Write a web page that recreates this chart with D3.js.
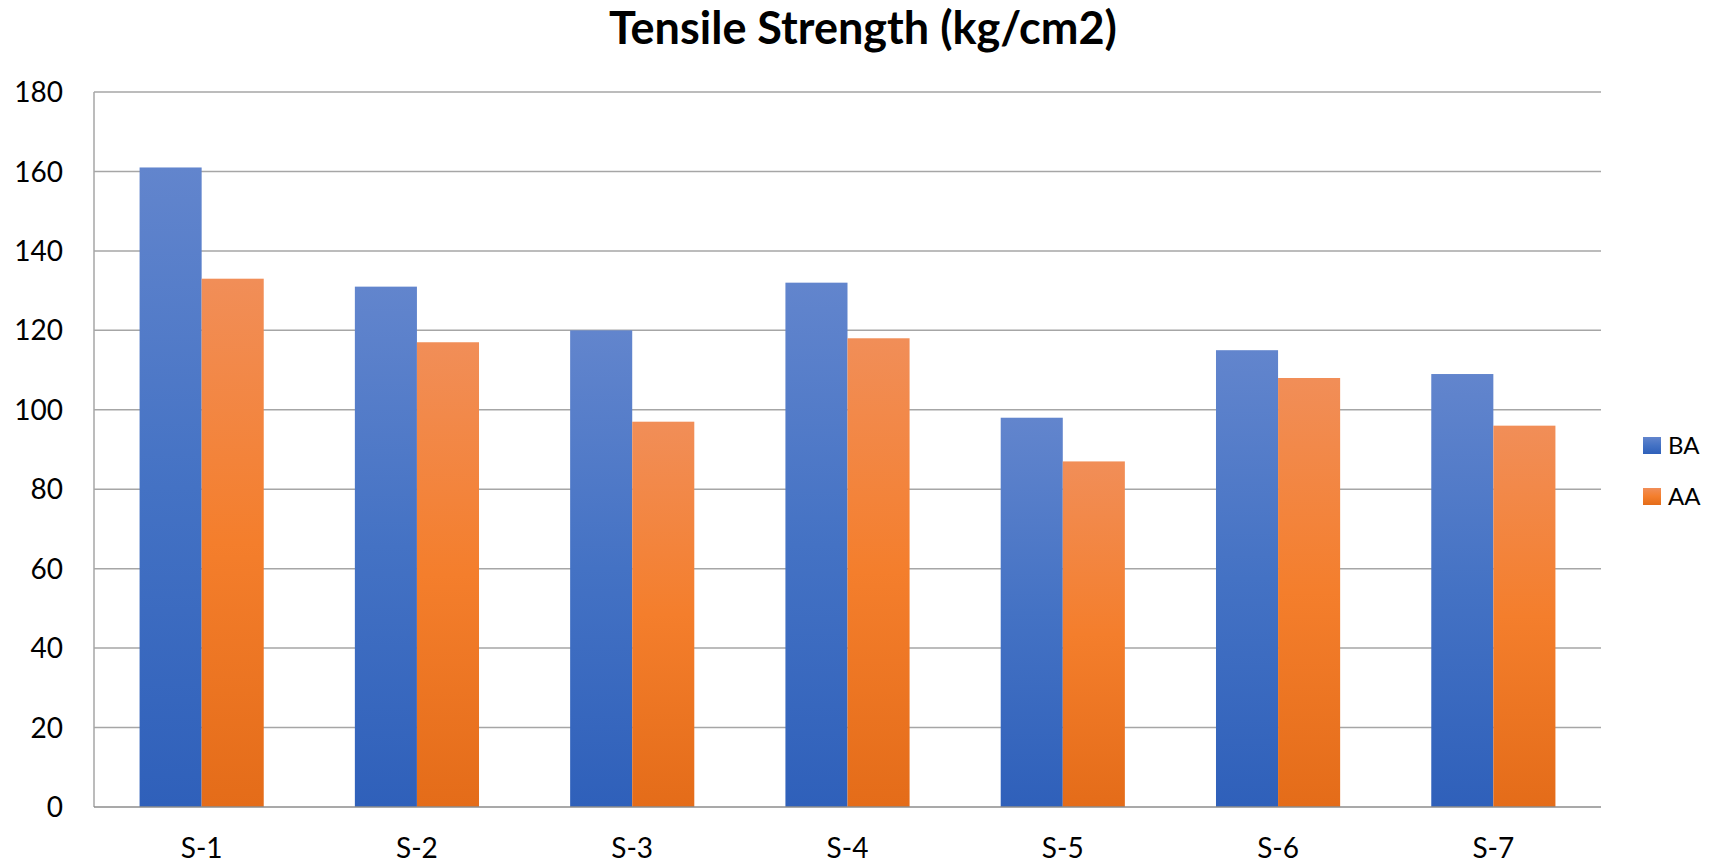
<!DOCTYPE html>
<html>
<head>
<meta charset="utf-8">
<script src="https://cdn.jsdelivr.net/npm/d3@7"></script>
<style>
  body { margin: 0; background: #fff; }
  text { font-family: Lato, "Open Sans", sans-serif; fill: #000; }
</style>
</head>
<body>
<div id="chart"></div>
<script>
// --- Data ---
const categories = ["S-1", "S-2", "S-3", "S-4", "S-5", "S-6", "S-7"];
const seriesNames = ["BA", "AA"];
const baValues = [161, 131, 120, 132, 98, 115, 109];
const aaValues = [133, 117, 97, 118, 87, 108, 96];
const yTicks = [0, 20, 40, 60, 80, 100, 120, 140, 160, 180];

// --- Layout ---
const w = 1714;
const h = 865;
const plot = { left: 94, right: 1601, top: 92, bottom: 807 };

const svg = d3.select("#chart")
    .append("svg")
    .attr("width", w)
    .attr("height", h);

// gradients for the bars (light top, dark bottom)
const defs = svg.append("defs");
const gradStops = {
    BA: ["#6285cd", "#4472c4", "#2f60ba"],
    AA: ["#f18e58", "#f47e2c", "#e46c19"]
};
seriesNames.forEach(function (name) {
    const g = defs.append("linearGradient")
        .attr("id", "grad-" + name)
        .attr("x1", 0).attr("y1", 0)
        .attr("x2", 0).attr("y2", 1);
    g.append("stop").attr("offset", "0%").attr("stop-color", gradStops[name][0]);
    g.append("stop").attr("offset", "50%").attr("stop-color", gradStops[name][1]);
    g.append("stop").attr("offset", "100%").attr("stop-color", gradStops[name][2]);
});

// scales
const x0 = d3.scaleBand()
    .domain(categories)
    .range([plot.left, plot.right])
    .paddingInner(0.4233)
    .paddingOuter(0.2117);

const x1 = d3.scaleBand()
    .domain(seriesNames)
    .range([0, x0.bandwidth()]);

const y = d3.scaleLinear()
    .domain([0, 180])
    .range([plot.bottom, plot.top]);

// gridlines
svg.append("g")
    .selectAll("line")
    .data(yTicks.filter(function (d) { return d > 0; }))
    .enter()
    .append("line")
    .attr("x1", plot.left)
    .attr("x2", plot.right)
    .attr("y1", function (d) { return y(d); })
    .attr("y2", function (d) { return y(d); })
    .attr("stroke", "#a6a6a6")
    .attr("stroke-width", 1.5);

// left axis line
svg.append("line")
    .attr("x1", plot.left).attr("x2", plot.left)
    .attr("y1", plot.top).attr("y2", plot.bottom)
    .attr("stroke", "#a6a6a6")
    .attr("stroke-width", 1.5);

// bars
const rows = categories.map(function (c, i) {
    return { cat: c, values: [
        { name: "BA", value: baValues[i] },
        { name: "AA", value: aaValues[i] }
    ] };
});

svg.append("g")
    .selectAll("g")
    .data(rows)
    .enter()
    .append("g")
    .attr("transform", function (d) { return "translate(" + x0(d.cat) + ",0)"; })
    .selectAll("rect")
    .data(function (d) { return d.values; })
    .enter()
    .append("rect")
    .attr("x", function (d) { return x1(d.name); })
    .attr("y", function (d) { return y(d.value); })
    .attr("width", x1.bandwidth())
    .attr("height", function (d) { return y(0) - y(d.value); })
    .attr("fill", function (d) { return "url(#grad-" + d.name + ")"; });

// x axis line
svg.append("line")
    .attr("x1", plot.left).attr("x2", plot.right)
    .attr("y1", plot.bottom).attr("y2", plot.bottom)
    .attr("stroke", "#8c8c8c")
    .attr("stroke-width", 1.5);

// y tick labels
svg.append("g")
    .selectAll("text")
    .data(yTicks)
    .enter()
    .append("text")
    .attr("x", 63)
    .attr("y", function (d) { return y(d); })
    .attr("dy", "0.36em")
    .attr("text-anchor", "end")
    .attr("font-size", "28px")
    .text(function (d) { return d; });

// x tick labels
svg.append("g")
    .selectAll("text")
    .data(categories)
    .enter()
    .append("text")
    .attr("x", function (d) { return x0(d) + x0.bandwidth() / 2; })
    .attr("y", 858)
    .attr("text-anchor", "middle")
    .attr("font-size", "28px")
    .text(function (d) { return d; });

// title
svg.append("text")
    .attr("x", 863)
    .attr("y", 44)
    .attr("text-anchor", "middle")
    .attr("font-size", "45px")
    .attr("font-weight", "bold")
    .text("Tensile Strength (kg/cm2)");

// legend
const legend = svg.append("g")
    .selectAll("g")
    .data(seriesNames)
    .enter()
    .append("g")
    .attr("transform", function (d, i) { return "translate(1643," + (437 + i * 51) + ")"; });

legend.append("rect")
    .attr("width", 18)
    .attr("height", 17)
    .attr("fill", function (d) { return "url(#grad-" + d + ")"; });

legend.append("text")
    .attr("x", 25)
    .attr("y", 8.5)
    .attr("dy", "0.36em")
    .attr("font-size", "24px")
    .text(function (d) { return d; });
</script>
</body>
</html>
